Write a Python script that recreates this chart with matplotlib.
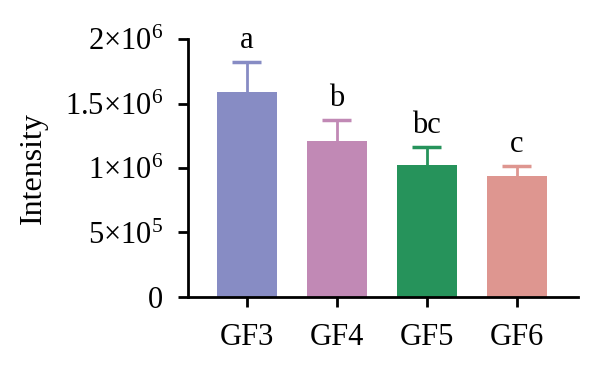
import numpy as np
import matplotlib
matplotlib.use("Agg")
import matplotlib.pyplot as plt

plt.rcParams['font.family'] = ['Liberation Serif', 'DejaVu Serif']
plt.rcParams['mathtext.fontset'] = 'custom'
plt.rcParams['mathtext.rm'] = 'Liberation Serif'

# Data
groups = ['GF3', 'GF4', 'GF5', 'GF6']
means = [1.59e6, 1.21e6, 1.02e6, 0.935e6]
errors = [0.23e6, 0.165e6, 0.145e6, 0.078e6]
letters = ['a', 'b', 'bc', 'c']
colors = ['#878CC4', '#C189B5', '#26935B', '#DE9690']

yticks = [0, 5e5, 1e6, 1.5e6, 2e6]
ytick_labels = ['0', r'$\mathregular{5{\times}10^{5}}$', r'$\mathregular{1{\times}10^{6}}$',
                r'$\mathregular{1.5{\times}10^{6}}$', r'$\mathregular{2{\times}10^{6}}$']

fig = plt.figure(figsize=(6, 3.68), dpi=100)
ax = fig.add_axes([0.313, 0.193, 0.65, 0.701])

x = np.arange(len(groups))
tops = np.array(means) + np.array(errors)
ax.bar(x, means, width=0.667, color=colors, zorder=2)
# upward-only error bars
ax.vlines(x, means, tops, colors=colors, linewidth=2, zorder=1)
ax.hlines(tops, x - 0.16, x + 0.16, colors=colors, linewidth=2.5, zorder=1)

for xi, t, l in zip(x, tops, letters):
    ax.annotate(l, (xi, t), xytext=(0, 5), textcoords='offset points',
                ha='center', va='bottom', fontsize=22, annotation_clip=False)

ax.set_xlim(-0.656, 3.678)
ax.set_ylim(0, 2e6)
ax.set_yticks(yticks)
ax.set_yticklabels(ytick_labels)
ax.set_xticks(x)
ax.set_xticklabels(groups)
ax.set_ylabel('Intensity', fontsize=23, labelpad=12)

for s in ['top', 'right']:
    ax.spines[s].set_visible(False)
for s in ['left', 'bottom']:
    ax.spines[s].set_linewidth(2)
ax.tick_params(axis='both', width=2, length=7, labelsize=22)
ax.tick_params(axis='y', pad=11)
ax.tick_params(axis='x', pad=12)

fig.savefig('out.png', dpi=100)
